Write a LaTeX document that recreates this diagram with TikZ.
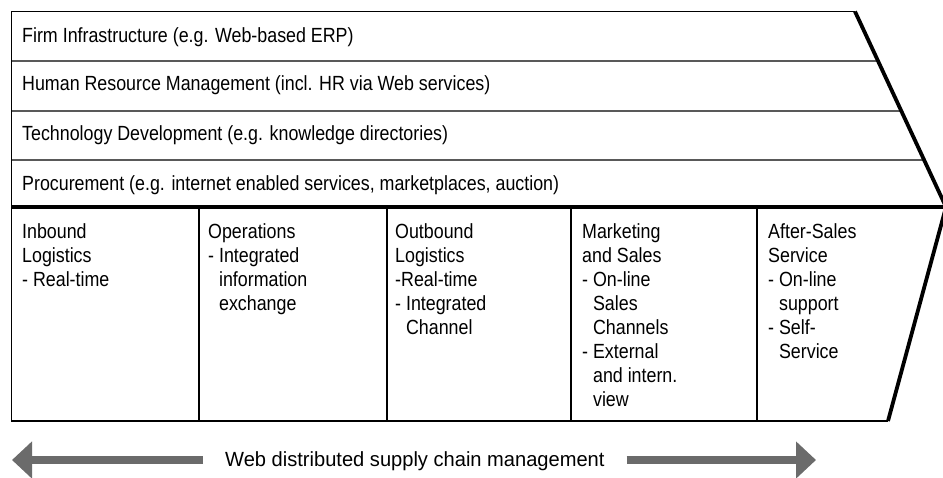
\documentclass[tikz,border=0pt]{standalone}
\usepackage{fontspec}
\setmainfont{Liberation Sans}[FakeStretch=0.87]
\newfontfamily\widesans{Liberation Sans}[FakeStretch=0.98]
\usetikzlibrary{calc,arrows.meta}
\definecolor{arrowgray}{HTML}{6B6B6B}
\begin{document}
\begin{tikzpicture}[x=1pt,y=-1pt,
  txt/.style={font=\fontsize{20.5}{24}\selectfont},
  rowtext/.style={txt, anchor=base west, inner sep=0pt},
  coltext/.style={txt, anchor=base west, inner sep=0pt},
  frame/.style={line width=1.6pt},
  divider/.style={line width=1.3pt},
  heavy/.style={line width=3.8pt},
  bigarrow/.style={draw=arrowgray, line width=8pt,
    -{Triangle[length=20pt,width=36pt]}}]
\useasboundingbox (0,0) rectangle (943,477);

% outline of the value chain arrow
\coordinate (tl) at (11.5,11.5);
\coordinate (tr) at (855,11.5);
\coordinate (tip) at (946,207);
\coordinate (br) at (888,421);
\coordinate (bl) at (11.5,421);

% support activity rows
\draw[divider] (11.5,61) -- ($(tr)!{49.5/195.5}!(tip)$);
\draw[divider] (11.5,111) -- ($(tr)!{99.5/195.5}!(tip)$);
\draw[divider] (11.5,160) -- ($(tr)!{148.5/195.5}!(tip)$);

% primary activity columns
\foreach \x in {199,387,571,757}
  \draw[divider] (\x,207) -- (\x,421);

\draw[frame] (tr) -- (tl) -- (bl) -- (br);
\draw[heavy] (11.5,207) -- (tip);
\draw[heavy, line join=miter] (tr) -- (tip) -- (br);

% support activities
\node[rowtext] (firm) at (22,42.7) {Firm Infrastructure (e.g. Web-based ERP)};
\node[rowtext] (hrm) at (22,90.7) {Human Resource Management (incl. HR via Web services)};
\node[rowtext] (tech) at (22,140) {Technology Development (e.g. knowledge directories)};
\node[rowtext] (proc) at (22,190) {Procurement (e.g. internet enabled services, marketplaces, auction)};

% primary activities
\node[coltext] (inbound) at (22,238.3) {\parbox[t]{170pt}{\raggedright
  Inbound\\Logistics\\- Real-time}};
\node[coltext] (ops) at (208,238.3) {\parbox[t]{170pt}{\raggedright
  Operations\\- Integrated\\\hphantom{- }information\\\hphantom{- }exchange}};
\node[coltext] (outbound) at (395,238.3) {\parbox[t]{170pt}{\raggedright
  Outbound\\Logistics\\-Real-time\\- Integrated\\\hphantom{- }Channel}};
\node[coltext] (marketing) at (582,238.3) {\parbox[t]{170pt}{\raggedright
  Marketing\\and Sales\\- On-line\\\hphantom{- }Sales\\\hphantom{- }Channels\\- External\\\hphantom{- }and intern.\\\hphantom{- }view}};
\node[coltext] (service) at (768,238.3) {\parbox[t]{120pt}{\raggedright
  After-Sales\\Service\\- On-line\\\hphantom{- }support\\- Self-\\\hphantom{- }Service}};

% supply chain arrows
\coordinate (lend) at (12,460);
\coordinate (rend) at (816,460);
\node[font=\widesans\fontsize{20.5}{24}\selectfont, anchor=base west,
  inner ysep=0pt, inner xsep=22pt] (scm) at (203,466.7)
  {Web distributed supply chain management};
\draw[bigarrow] (scm.west |- lend) -- (lend);
\draw[bigarrow] (scm.east |- rend) -- (rend);
\end{tikzpicture}
\end{document}
